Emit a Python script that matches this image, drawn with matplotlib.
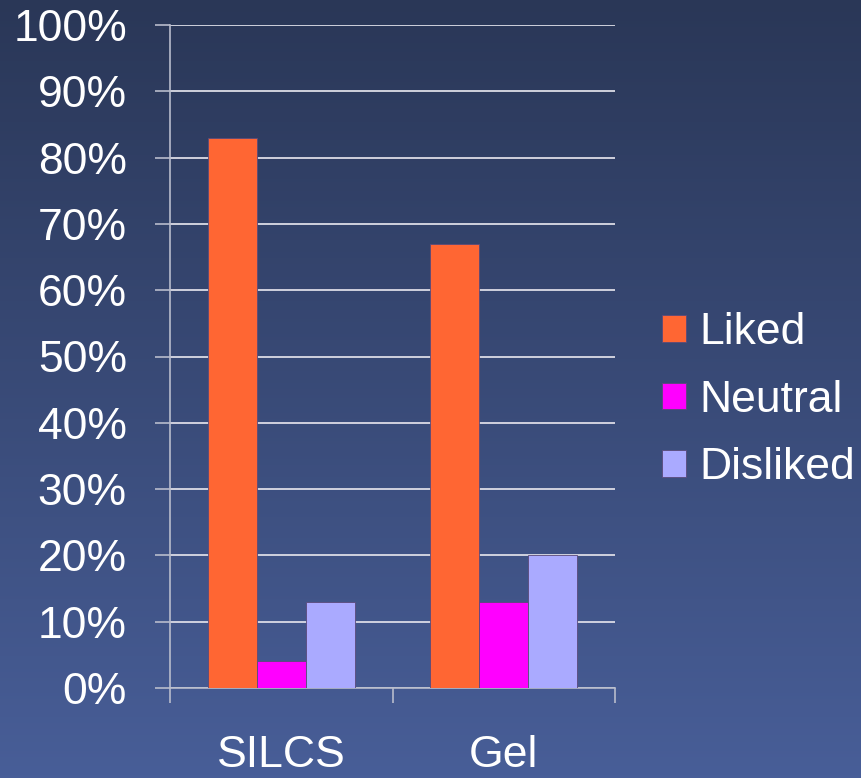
import numpy as np
import matplotlib.pyplot as plt
from matplotlib.colors import LinearSegmentedColormap

categories = ["SILCS", "Gel"]
series = ["Liked", "Neutral", "Disliked"]
liked = [83, 67]
neutral = [4, 13]
disliked = [13, 20]
colors = ["#ff6633", "#ff00ff", "#aaaaff"]

plt.rcParams['font.family'] = ['Liberation Sans', 'DejaVu Sans']

fig = plt.figure(figsize=(8.62, 7.78), dpi=100)

# background gradient
bg = fig.add_axes([0, 0, 1, 1], zorder=-10)
grad = np.linspace(0, 1, 256).reshape(-1, 1)
cmap = LinearSegmentedColormap.from_list("bg", ["#2a3757", "#485e98"])
bg.imshow(grad, aspect="auto", cmap=cmap, extent=[0, 1, 0, 1], origin="upper")
bg.axis("off")

ax = fig.add_axes([170 / 862, 1 - 688 / 778, 445 / 862, 663 / 778])
ax.patch.set_alpha(0)

x = np.arange(len(categories))
w = 0.22
for i, (vals, name) in enumerate(zip([liked, neutral, disliked], series)):
    ax.bar(x + (i - 1) * w, vals, w, color=colors[i], label=name,
           edgecolor="#5a4a7a", linewidth=0.6, zorder=3)

ax.set_xlim(-0.5, 1.5)
ax.set_ylim(0, 100)
ax.set_yticks(range(0, 101, 10))
ax.set_yticklabels([f"{v}%" for v in range(0, 101, 10)])
ax.yaxis.grid(True, color="#dcdce6", linewidth=1.3, zorder=1)
ax.set_axisbelow(True)

ax.set_xticks([-0.5, 0.5, 1.5])
ax.set_xticklabels([])
ax.set_xticks(x, minor=True)
ax.set_xticklabels(categories, minor=True)
ax.tick_params(axis="x", which="minor", length=0, pad=34, labelsize=32, labelcolor="white")
ax.tick_params(axis="x", which="major", length=11, width=1.2, color="#b8bccc")
ax.tick_params(axis="y", length=11, width=1.2, color="#b8bccc", pad=20, labelsize=32, labelcolor="white")

for s in ["top", "right"]:
    ax.spines[s].set_visible(False)
for s in ["left", "bottom"]:
    ax.spines[s].set_color("#b8bccc")
    ax.spines[s].set_linewidth(1.2)

leg = ax.legend(loc="center left", bbox_to_anchor=(1.015, 0.434), frameon=False,
                fontsize=32, labelcolor="white", handlelength=0.55, handleheight=0.55,
                handletextpad=0.3, labelspacing=0.6)

fig.savefig("out.png", dpi=100)
